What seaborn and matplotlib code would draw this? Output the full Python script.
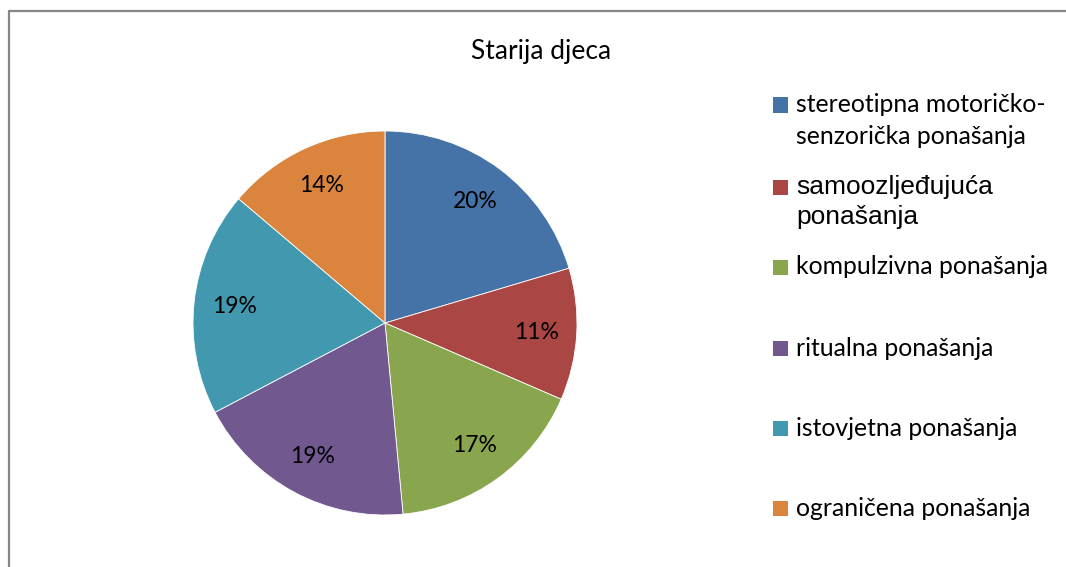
import matplotlib
matplotlib.use("Agg")
import matplotlib.pyplot as plt
import seaborn as sns
from matplotlib.lines import Line2D
from matplotlib.patches import Rectangle

categories = ["stereotipna motoričko-\nsenzorička ponašanja", "samoozljeđujuća\nponašanja",
              "kompulzivna ponašanja", "ritualna ponašanja",
              "istovjetna ponašanja", "ograničena ponašanja"]
values = [20.4, 11.1, 17.0, 18.8, 18.9, 13.8]
colors = ["#4572A7", "#AA4643", "#89A54E", "#71588F", "#4198AF", "#DB843D"]
title = "Starija djeca"

sns.set_theme(style="white")
plt.rcParams['font.family'] = ['Lato', 'DejaVu Sans']

W, H = 1066, 567
fig = plt.figure(figsize=(W / 100, H / 100), dpi=100)
fig.patch.set_facecolor("white")

# pie axes: center (385, 323), radius 192 px
cx, cy, r = 385, 323, 192
ax = fig.add_axes([(cx - r) / W, (H - cy - r) / H, 2 * r / W, 2 * r / H])
ax.pie(values, colors=colors, startangle=90, counterclock=False,
       autopct=lambda p: f"{p:.0f}%", pctdistance=0.79,
       wedgeprops=dict(edgecolor="white", linewidth=0.6),
       textprops=dict(fontsize=16.5, color="black", family=['Lato', 'DejaVu Sans']))
ax.set_xlim(-1, 1)
ax.set_ylim(-1, 1)
ax.set_aspect("equal")
ax.axis("off")

fig.text(541 / W, 1 - 52 / H, title, ha="center", va="center", fontsize=19,
         color="black")

# legend
centers = [105, 187, 267, 348, 428, 508]
for i, (lab, col, yc) in enumerate(zip(categories, colors, centers)):
    fig.add_artist(Rectangle((773 / W, 1 - (yc + 7.5) / H), 15 / W, 15 / H,
                             transform=fig.transFigure, facecolor=col,
                             edgecolor="none"))
    lines = lab.split("\n")
    if i == 1:
        fam = ['Liberation Sans', 'DejaVu Sans']
        fs, step = 19, 30
    else:
        fam = ['Lato', 'DejaVu Sans']
        fs, step = 17.8, 32
    for j, ln in enumerate(lines):
        fig.text(796 / W, 1 - (yc + j * step) / H, ln, ha="left",
                 va="center", fontsize=fs, color="black", family=fam)

# chart border (top and left visible)
fig.add_artist(Line2D([8.5 / W, 1.0], [1 - 10.5 / H, 1 - 10.5 / H],
                      transform=fig.transFigure, color="#868686", linewidth=1.6))
fig.add_artist(Line2D([8.5 / W, 8.5 / W], [0, 1 - 10.5 / H],
                      transform=fig.transFigure, color="#868686", linewidth=1.6))

fig.savefig("out.png", dpi=100, facecolor="white")
